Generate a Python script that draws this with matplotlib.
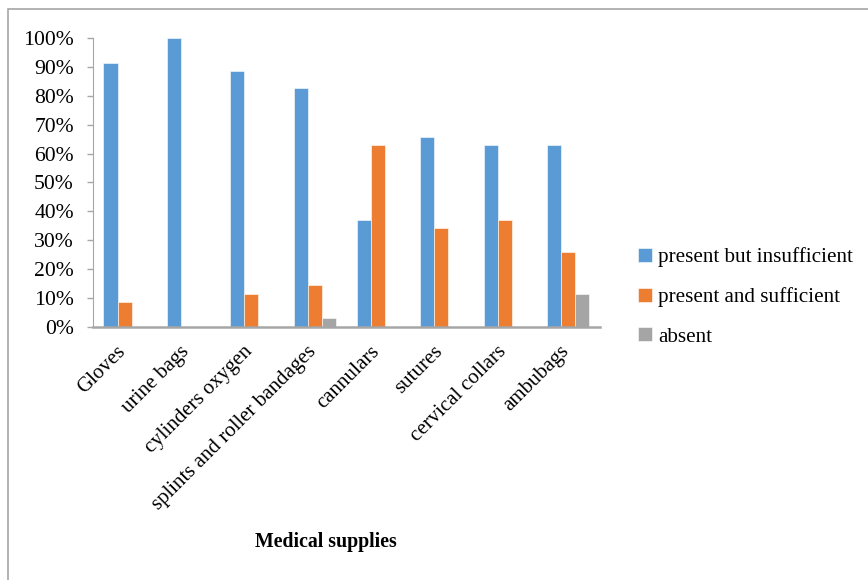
import matplotlib.pyplot as plt
import matplotlib.transforms as mtransforms
import numpy as np
from matplotlib.patches import Rectangle
from matplotlib.ticker import PercentFormatter

plt.rcParams['font.family'] = ['Liberation Serif', 'DejaVu Serif']

supplies = ['Gloves', 'urine bags', 'cylinders oxygen', 'splints and roller bandages',
            'cannulars', 'sutures', 'cervical collars', 'ambubags']
insufficient = [91.4, 100, 88.6, 82.9, 37.1, 65.7, 62.9, 62.9]
sufficient = [8.6, 0, 11.4, 14.3, 62.9, 34.3, 37.1, 25.7]
absent = [0, 0, 0, 2.9, 0, 0, 0, 11.4]

series = [('present but insufficient', insufficient, '#5b9bd5'),
          ('present and sufficient', sufficient, '#ed7d31'),
          ('absent', absent, '#a5a5a5')]

fig = plt.figure(figsize=(8.68, 5.8), dpi=100)
ax = fig.add_axes([0.107, 0.437, 0.584, 0.497])

x = np.arange(len(supplies))
w = 0.222
for i, (name, vals, col) in enumerate(series):
    ax.bar(x + (i - 1) * w, vals, w, color=col, label=name,
           edgecolor='white', linewidth=0.4)

ax.set_ylim(0, 100)
ax.set_xlim(-0.5, 7.5)
ax.set_yticks(np.arange(0, 101, 10))
ax.yaxis.set_major_formatter(PercentFormatter(decimals=0))
ax.tick_params(axis='y', labelsize=15.6, length=4.3, width=1, color='#a6a6a6', pad=9.4)
ax.set_xticks(x)
ax.set_xticklabels(supplies, rotation=45, ha='right', rotation_mode='anchor', fontsize=15)
ax.tick_params(axis='x', length=0, pad=9)

# nudge the slanted category names a little left and down
shift = mtransforms.ScaledTranslation(-8 / 100, -3 / 100, fig.dpi_scale_trans)
for lbl in ax.get_xticklabels():
    lbl.set_transform(lbl.get_transform() + shift)

for s in ['top', 'right']:
    ax.spines[s].set_visible(False)
ax.spines['left'].set_color('#a6a6a6')
ax.spines['bottom'].set_color('#a6a6a6')
ax.spines['bottom'].set_linewidth(1.8)

ax.set_xlabel('Medical supplies', fontsize=14.3, fontweight='bold', labelpad=0)
ax.xaxis.set_label_coords(0.459, -0.713)

ax.legend(loc='center left', bbox_to_anchor=(1.038, 0.103), frameon=False,
          fontsize=15.2, handlelength=0.65, handleheight=0.65, handletextpad=0.3,
          labelspacing=0.95)

# outer frame around the chart area
fig.patches.append(Rectangle((8 / 868, -0.05), 1.1, 1.05 - 9 / 580,
                             transform=fig.transFigure, fill=False,
                             edgecolor='#a6a6a6', linewidth=1.2))

fig.savefig('out.png', dpi=100)
